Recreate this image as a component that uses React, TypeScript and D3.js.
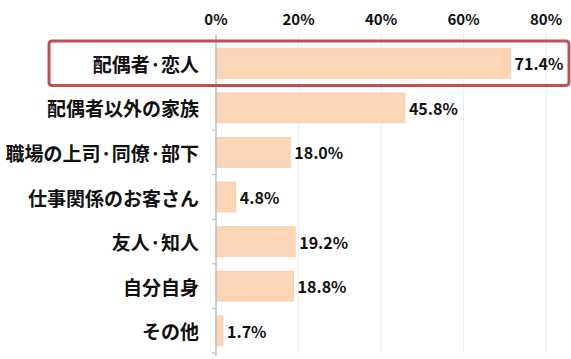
import * as d3 from "d3";

const categories = [
  "配偶者·恋人",
  "配偶者以外の家族",
  "職場の上司·同僚·部下",
  "仕事関係のお客さん",
  "友人·知人",
  "自分自身",
  "その他",
];
const values = [71.4, 45.8, 18.0, 4.8, 19.2, 18.8, 1.7];
const xTicks = [0, 20, 40, 60, 80];
const highlighted = "配偶者·恋人";

const WIDTH = 571;
const HEIGHT = 359;
const MARGIN = { top: 41, right: 25, bottom: 6, left: 216 };
const FONT = "'Noto Sans CJK JP', 'Noto Sans', sans-serif";

export default function App() {
  const xScale = d3
    .scaleLinear()
    .domain([0, 80])
    .range([MARGIN.left, MARGIN.left + 330]);

  const yScale = d3
    .scaleBand<string>()
    .domain(categories)
    .range([MARGIN.top, HEIGHT - MARGIN.bottom])
    .paddingInner(0.33)
    .paddingOuter(0.165);

  const step = yScale.step();
  const bottom = HEIGHT - MARGIN.bottom;
  const hy = (yScale(highlighted) ?? 0) - yScale.paddingOuter() * step;

  return (
    <svg
      width={WIDTH}
      height={HEIGHT}
      style={{ position: "absolute", left: 0, top: 0, background: "#fff" }}
      fontFamily={FONT}
    >
      {/* gridlines */}
      {xTicks.slice(1).map((t) => (
        <line
          key={t}
          x1={xScale(t)}
          x2={xScale(t)}
          y1={33}
          y2={bottom}
          stroke="#ececec"
          strokeWidth={1}
        />
      ))}

      {/* top tick labels */}
      {xTicks.map((t) => (
        <text
          key={t}
          x={xScale(t)}
          y={25}
          textAnchor="middle"
          fontSize={15}
          fontWeight={700}
          fill="#111"
        >
          {t}%
        </text>
      ))}

      {/* bars */}
      {categories.map((c, i) => (
        <rect
          key={c}
          x={xScale(0)}
          y={yScale(c)}
          width={xScale(values[i]) - xScale(0)}
          height={yScale.bandwidth()}
          fill="#fbd5b5"
          stroke="#f7cca8"
          strokeWidth={0.8}
        />
      ))}

      {/* value labels */}
      {categories.map((c, i) => (
        <text
          key={c}
          x={xScale(values[i]) + 4}
          y={(yScale(c) ?? 0) + yScale.bandwidth() / 2}
          dominantBaseline="central"
          fontSize={16}
          fontWeight={700}
          fill="#111"
        >
          {values[i].toFixed(1)}%
        </text>
      ))}

      {/* category axis */}
      <line
        x1={xScale(0)}
        x2={xScale(0)}
        y1={35}
        y2={bottom + 3}
        stroke="#bfbfbf"
        strokeWidth={1.5}
      />
      {categories.map((c, i) => {
        const y = (yScale(c) ?? 0) + yScale.bandwidth() + (yScale.paddingInner() * step) / 2;
        const yy = i === categories.length - 1 ? bottom : y;
        return (
          <line
            key={c}
            x1={xScale(0) - 4}
            x2={xScale(0)}
            y1={yy}
            y2={yy}
            stroke="#bfbfbf"
            strokeWidth={1.2}
          />
        );
      })}

      {/* category labels */}
      {categories.map((c) => (
        <text
          key={c}
          x={199}
          y={(yScale(c) ?? 0) + yScale.bandwidth() / 2}
          textAnchor="end"
          dominantBaseline="central"
          fontSize={19}
          fontWeight={700}
          fill="#111"
        >
          {c}
        </text>
      ))}

      {/* highlight box */}
      <rect
        x={49}
        y={hy}
        width={520}
        height={step}
        rx={3}
        fill="none"
        stroke="#c0504d"
        strokeWidth={3}
      />
    </svg>
  );
}
